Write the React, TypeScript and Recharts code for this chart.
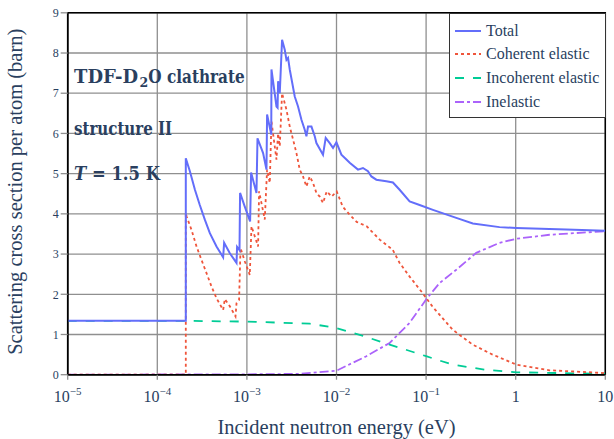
import React from 'react';
import { LineChart, Line, XAxis, YAxis, CartesianGrid, Legend, ReferenceArea, Customized } from 'recharts';

// ---------- data (energy in eV, cross section in barn) ----------
const totalE = [
  1e-5, 2.08e-4, 2.08e-4, 2.31e-4, 2.63e-4, 2.98e-4, 3.40e-4, 3.86e-4, 4.58e-4, 5.43e-4,
  5.57e-4, 6.45e-4, 7.66e-4, 7.77e-4, 8.27e-4, 8.39e-4, 9.47e-4, 1.086e-3, 1.114e-3, 1.279e-3,
  1.313e-3, 1.516e-3, 1.654e-3, 1.680e-3, 1.870e-3, 1.880e-3, 2.138e-3, 2.200e-3, 2.230e-3, 2.327e-3,
  2.469e-3, 2.646e-3, 2.764e-3, 2.879e-3, 3.008e-3, 3.420e-3, 3.722e-3, 4.062e-3, 4.420e-3, 4.617e-3,
  4.812e-3, 5.252e-3, 5.715e-3, 5.970e-3, 7.070e-3, 7.577e-3, 8.399e-3, 9.142e-3, 9.975e-3, 1.134e-2,
  1.290e-2, 1.404e-2, 1.737e-2, 1.974e-2, 2.245e-2, 2.450e-2, 2.785e-2, 3.599e-2, 4.264e-2, 5.065e-2,
  6.549e-2, 8.463e-2, 0.1191, 0.2172, 0.3323, 0.660, 1.013, 3.656, 10,
];
const totalY = [
  1.34, 1.34, 5.38, 5.06, 4.60, 4.22, 3.85, 3.52, 3.19, 2.92,
  3.28, 3.02, 2.78, 3.18, 3.10, 4.52, 4.18, 3.81, 5.03, 4.52,
  5.88, 5.51, 5.10, 6.47, 5.97, 7.59, 6.67, 6.64, 7.30, 7.00,
  8.33, 8.08, 7.83, 7.88, 7.59, 6.92, 6.67, 6.34, 6.09, 5.93,
  6.17, 6.17, 5.93, 5.76, 5.47, 5.89, 5.76, 5.64, 5.78, 5.47,
  5.35, 5.27, 5.10, 5.14, 5.06, 4.93, 4.85, 4.81, 4.78, 4.60,
  4.31, 4.22, 4.10, 3.90, 3.76, 3.67, 3.65, 3.61, 3.58,
];

const cohE = [
  1e-5, 2.08e-4, 2.08e-4, 2.12e-4, 2.41e-4, 2.74e-4, 3.12e-4, 3.55e-4, 4.03e-4, 4.58e-4,
  5.43e-4, 5.67e-4, 6.45e-4, 7.46e-4, 7.66e-4, 8.18e-4, 8.49e-4, 9.47e-4, 1.077e-3, 1.125e-3,
  1.333e-3, 1.368e-3, 1.583e-3, 1.680e-3, 1.800e-3, 1.880e-3, 2.138e-3, 2.228e-3, 2.327e-3, 2.469e-3,
  2.764e-3, 3.008e-3, 3.274e-3, 3.573e-3, 3.888e-3, 4.230e-3, 4.617e-3, 5.027e-3, 5.470e-3, 5.970e-3,
  6.50e-3, 7.07e-3, 7.78e-3, 8.84e-3, 1.005e-2, 1.172e-2, 1.404e-2, 1.680e-2, 2.172e-2, 3.031e-2,
  4.23e-2, 5.065e-2, 6.549e-2, 9.14e-2, 0.1182, 0.1974, 0.330, 0.551, 1.021, 2.381, 10,
];
const cohY = [
  0, 0, 4.02, 3.94, 3.60, 3.19, 2.85, 2.52, 2.19, 1.90,
  1.61, 1.88, 1.70, 1.45, 1.78, 1.86, 3.15, 2.82, 2.48, 3.69,
  3.19, 4.56, 3.86, 5.10, 4.77, 6.30, 5.35, 6.00, 5.68, 7.00,
  6.59, 6.17, 5.85, 5.51, 5.10, 4.93, 4.68, 4.93, 4.77, 4.52,
  4.43, 4.27, 4.56, 4.43, 4.56, 4.18, 3.98, 3.80, 3.69, 3.36,
  3.11, 2.78, 2.44, 2.03, 1.69, 1.12, 0.75, 0.50, 0.25, 0.11, 0.04,
];

const incohE = [1e-5, 2.08e-4, 1e-3, 5.03e-3, 1e-2, 1.814e-2, 3.92e-2, 0.1, 0.197, 0.4725, 1.02, 10];
const incohY = [1.34, 1.34, 1.32, 1.27, 1.16, 0.99, 0.75, 0.46, 0.25, 0.12, 0.06, 0.02];

const inelE = [1e-5, 1e-3, 3.888e-3, 1e-2, 2.154e-2, 3.92e-2, 6.549e-2, 0.1, 0.1414, 0.2172, 0.3628, 0.660, 1.013, 2.381, 8.59, 10];
const inelY = [0.0, 0.01, 0.02, 0.10, 0.46, 0.79, 1.29, 1.87, 2.28, 2.61, 3.03, 3.28, 3.38, 3.48, 3.56, 3.57];

const xTicks = [1e-5, 1e-4, 1e-3, 1e-2, 1e-1, 1, 10];
const xTickBase = ['10', '10', '10', '10', '10', '1', '10'];
const xTickExp = ['−5', '−4', '−3', '−2', '−1', '', ''];
const yTicks = [0, 1, 2, 3, 4, 5, 6, 7, 8, 9];

const seriesNames = ['Total', 'Coherent elastic', 'Incoherent elastic', 'Inelastic'];

const zip = (e: number[], y: number[]) => e.map((x, i) => ({ x, y: y[i] }));
const totalData = zip(totalE, totalY);
const cohData = zip(cohE, cohY);
const incohData = zip(incohE, incohY);
const inelData = zip(inelE, inelY);

// ---------- styles ----------
const TEXT = '#2a3f5f';
const GRID = '#8f8f8f';
const SERIF = '"Liberation Serif", "Times New Roman", serif';
const BOLDSERIF = '"DejaVu Serif", serif';
const styles = [
  { color: '#636efa', dash: undefined as string | undefined, width: 2 },
  { color: '#ef553b', dash: '3 3', width: 1.8 },
  { color: '#00cc96', dash: '9 9', width: 1.8 },
  { color: '#ab63fa', dash: '9 3 3 3', width: 1.8 },
];

const XTick = (props: any) => {
  const { x, y, payload } = props;
  const v = payload?.value;
  const idx = xTicks.findIndex((t) => Math.abs(Math.log10(t) - Math.log10(v)) < 1e-6);
  if (idx < 0) return null;
  const base = xTickBase[idx];
  const exp = xTickExp[idx];
  return (
    <text x={x} y={y + 20} textAnchor="middle" fontFamily={SERIF} fontSize={16} fill={TEXT}>
      {base}
      {exp ? (
        <tspan dy={-7} fontSize={11}>
          {exp}
        </tspan>
      ) : null}
    </text>
  );
};

const XTitle = (props: any) => {
  const vb = props.viewBox || { x: 67.7, width: 537.6 };
  const cx = vb.x + vb.width / 2;
  return (
    <text x={cx} y={433.5} textAnchor="middle" fontFamily={SERIF} fontSize={20.5} fill={TEXT}>
      Incident neutron energy (eV)
    </text>
  );
};

const YTitle = (props: any) => {
  const vb = props.viewBox || { y: 12.8, height: 361.9 };
  const cy = vb.y + vb.height / 2 - 2;
  return (
    <text
      x={22}
      y={cy}
      transform={`rotate(-90, 22, ${cy})`}
      textAnchor="middle"
      fontFamily={SERIF}
      fontSize={20.5}
      fill={TEXT}
    >
      Scattering cross section per atom (barn)
    </text>
  );
};

const Annotations = () => (
  <g fontFamily={BOLDSERIF} fontWeight="bold" fill={TEXT}>
    <text x={74} y={83.3} fontSize={18} textLength={64} lengthAdjust="spacingAndGlyphs">
      TDF-D
    </text>
    <text x={139.5} y={87} fontSize={12.5}>
      2
    </text>
    <text x={148.3} y={83.3} fontSize={18} textLength={96.5} lengthAdjust="spacingAndGlyphs">
      O clathrate
    </text>
    <text x={74} y={135} fontSize={18} textLength={98} lengthAdjust="spacingAndGlyphs">
      structure II
    </text>
    <text x={74} y={179.5} fontSize={18} textLength={86} lengthAdjust="spacingAndGlyphs">
      <tspan fontStyle="italic">T</tspan> = 1.5 K
    </text>
  </g>
);

const renderLegend = () => (
  <div
    style={{
      boxSizing: 'border-box',
      width: 157,
      height: 105,
      border: '1.5px solid #333',
      background: '#fff',
      position: 'relative',
      fontFamily: SERIF,
      fontSize: 16,
      color: TEXT,
    }}
  >
    {seriesNames.map((name, i) => (
      <div
        key={name}
        style={{
          position: 'absolute',
          left: 0,
          top: 7 + i * 23.67,
          height: 20,
          display: 'flex',
          alignItems: 'center',
          whiteSpace: 'nowrap',
        }}
      >
        <svg width={36} height={20} style={{ display: 'block' }}>
          <line
            x1={5}
            x2={31}
            y1={10}
            y2={10}
            stroke={styles[i].color}
            strokeWidth={2}
            strokeDasharray={styles[i].dash}
          />
        </svg>
        <span style={{ lineHeight: '20px' }}>{name}</span>
      </div>
    ))}
  </div>
);

export default function App() {
  return (
    <div style={{ position: 'absolute', left: 0, top: 0, width: 614, height: 439, background: '#fff' }}>
      <LineChart width={614} height={439} margin={{ top: 12.8, right: 8.7, bottom: 0, left: 0 }}>
        <CartesianGrid stroke={GRID} strokeWidth={1.3} />
        <XAxis
          dataKey="x"
          type="number"
          scale="log"
          domain={[1e-5, 10]}
          ticks={xTicks}
          interval={0}
          allowDataOverflow
          height={64.3}
          tickSize={5}
          tickLine={{ stroke: GRID, strokeWidth: 1.3 }}
          axisLine={{ stroke: '#000', strokeWidth: 1.5 }}
          tick={<XTick />}
          label={<XTitle />}
        />
        <YAxis
          type="number"
          domain={[0, 9]}
          ticks={yTicks}
          interval={0}
          allowDataOverflow
          width={67.7}
          tickSize={7}
          tickLine={{ stroke: GRID, strokeWidth: 1.3 }}
          axisLine={{ stroke: '#000', strokeWidth: 1.5 }}
          tick={{ fontSize: 12, fill: TEXT, fontFamily: SERIF }}
          label={<YTitle />}
        />
        <ReferenceArea x1={1e-5} x2={10} y1={0} y2={9} fill="none" stroke="#000" strokeWidth={1.5} ifOverflow="visible" />
        <Line data={inelData} dataKey="y" name={seriesNames[3]} type="linear" dot={false} isAnimationActive={false}
          stroke={styles[3].color} strokeWidth={styles[3].width} strokeDasharray={styles[3].dash} />
        <Line data={incohData} dataKey="y" name={seriesNames[2]} type="linear" dot={false} isAnimationActive={false}
          stroke={styles[2].color} strokeWidth={styles[2].width} strokeDasharray={styles[2].dash} />
        <Line data={cohData} dataKey="y" name={seriesNames[1]} type="linear" dot={false} isAnimationActive={false}
          stroke={styles[1].color} strokeWidth={styles[1].width} strokeDasharray={styles[1].dash} />
        <Line data={totalData} dataKey="y" name={seriesNames[0]} type="linear" dot={false} isAnimationActive={false}
          stroke={styles[0].color} strokeWidth={styles[0].width} />
        <Customized component={Annotations} />
        <Legend
          layout="vertical"
          align="center"
          verticalAlign="middle"
          wrapperStyle={{ left: 449, top: 12.8, width: 157, height: 105, right: 'auto', bottom: 'auto' }}
          content={renderLegend}
        />
      </LineChart>
    </div>
  );
}
